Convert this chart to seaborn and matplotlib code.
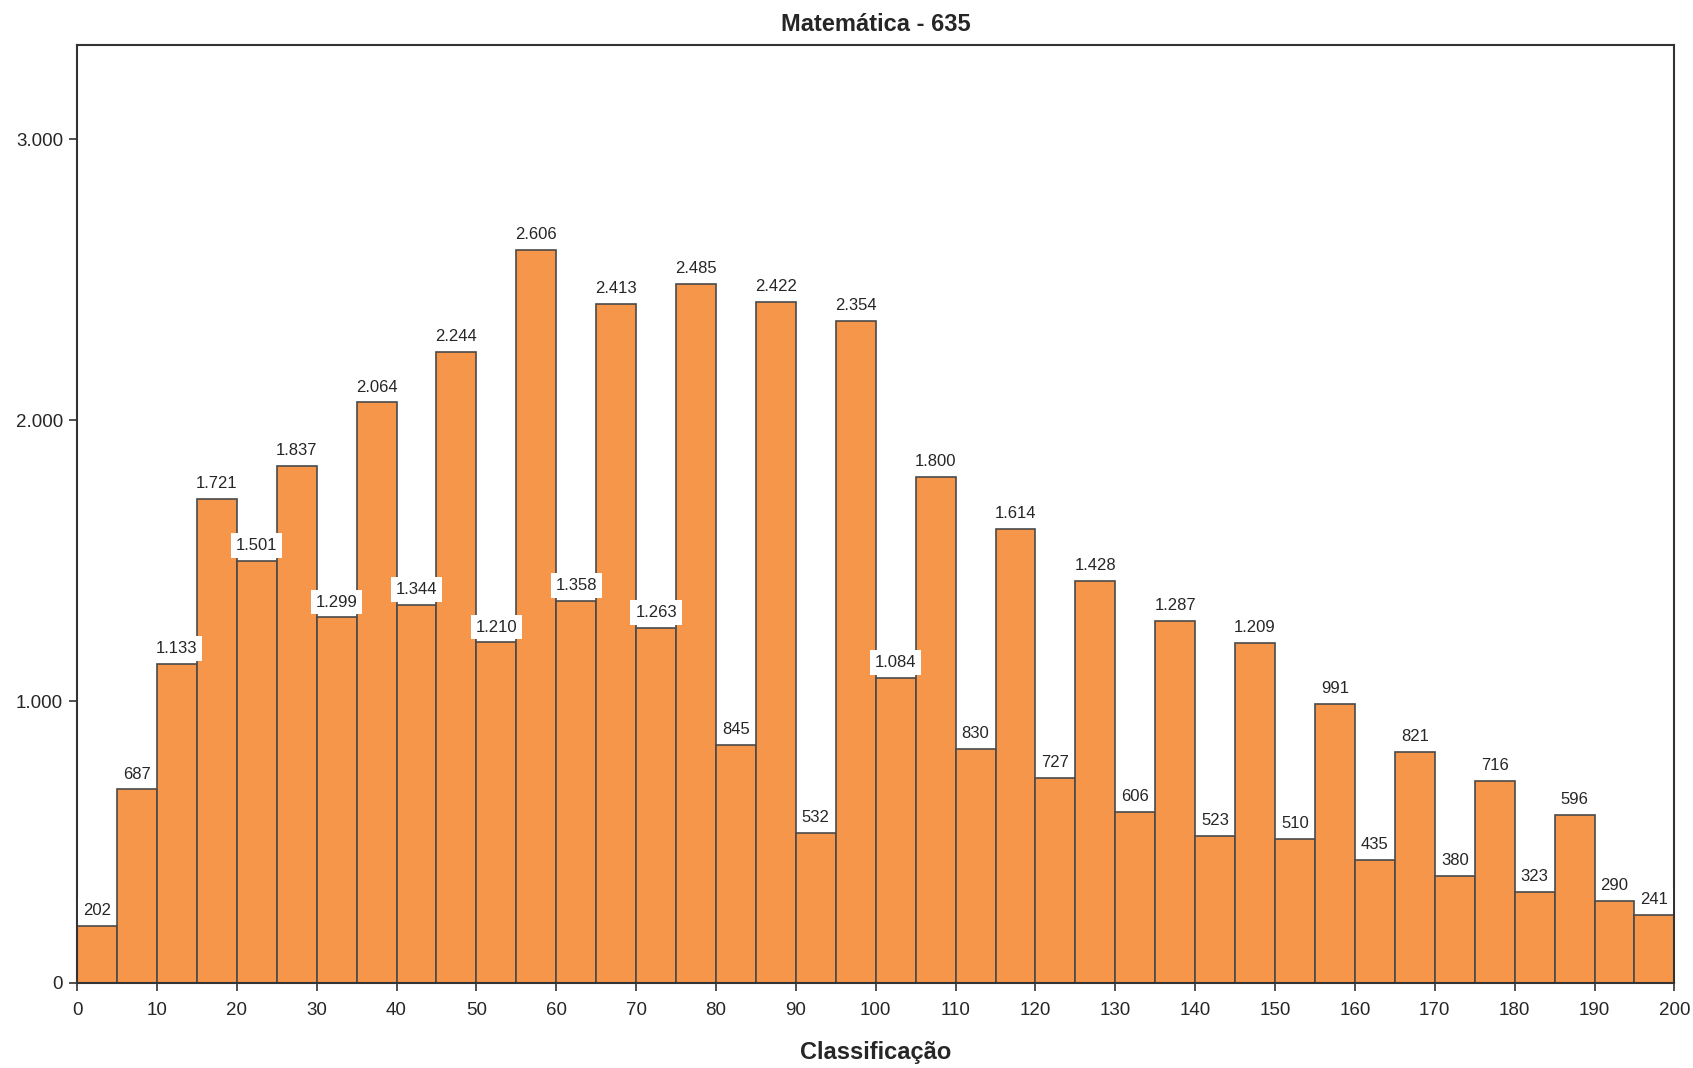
import numpy as np
import pandas as pd
import seaborn as sns
import matplotlib.pyplot as plt
from matplotlib.ticker import FuncFormatter

# contagens por classe (largura 5, de 0 a 200)
bin_edges = list(range(0, 205, 5))
counts = [202, 687, 1133, 1721, 1501, 1837, 1299, 2064, 1344, 2244,
          1210, 2606, 1358, 2413, 1263, 2485, 845, 2422, 532, 2354,
          1084, 1800, 830, 1614, 727, 1428, 606, 1287, 523, 1209,
          510, 991, 435, 821, 380, 716, 323, 596, 290, 241]
title = "Matemática - 635"
xlabel = "Classificação"


def pt_fmt(v):
    return f"{int(v):,}".replace(",", ".")


sns.set_style("white")
plt.rcParams['font.family'] = ['Liberation Sans', 'DejaVu Sans']

df = pd.DataFrame({"mid": [e + 2.5 for e in bin_edges[:-1]], "n": counts})

fig = plt.figure(figsize=(16.93, 10.68), dpi=100)
ax = fig.add_axes([0.0455, 0.08, 0.9435, 0.878])

sns.histplot(data=df, x="mid", weights="n", bins=bin_edges, ax=ax,
             color="#F5964A", alpha=1, edgecolor="#4a4a4a", linewidth=1.2)

# rótulos com fundo branco acima de cada barra
for p in ax.patches:
    h = p.get_height()
    ax.text(p.get_x() + p.get_width() / 2, h + 28, pt_fmt(h),
            ha="center", va="bottom", fontsize=12,
            bbox=dict(facecolor="white", edgecolor="none", pad=3.5))

ax.set_xlim(0, 200)
ax.set_ylim(0, 3336)
ax.set_xticks(range(0, 201, 10))
ax.set_yticks([0, 1000, 2000, 3000])
ax.yaxis.set_major_formatter(FuncFormatter(lambda v, _: pt_fmt(v)))
ax.tick_params(axis="both", which="major", bottom=True, left=True,
               direction="out", length=6, width=1.2, labelsize=13.5,
               color="#333333", pad=4)
ax.tick_params(axis="x", pad=8)
for s in ax.spines.values():
    s.set_color("#333333")
    s.set_linewidth(1.5)

ax.set_ylabel("")
ax.set_xlabel(xlabel, fontsize=17, fontweight="bold", labelpad=16)
ax.set_title(title, fontsize=17, fontweight="bold", pad=10)

fig.savefig("out.png", dpi=100)
